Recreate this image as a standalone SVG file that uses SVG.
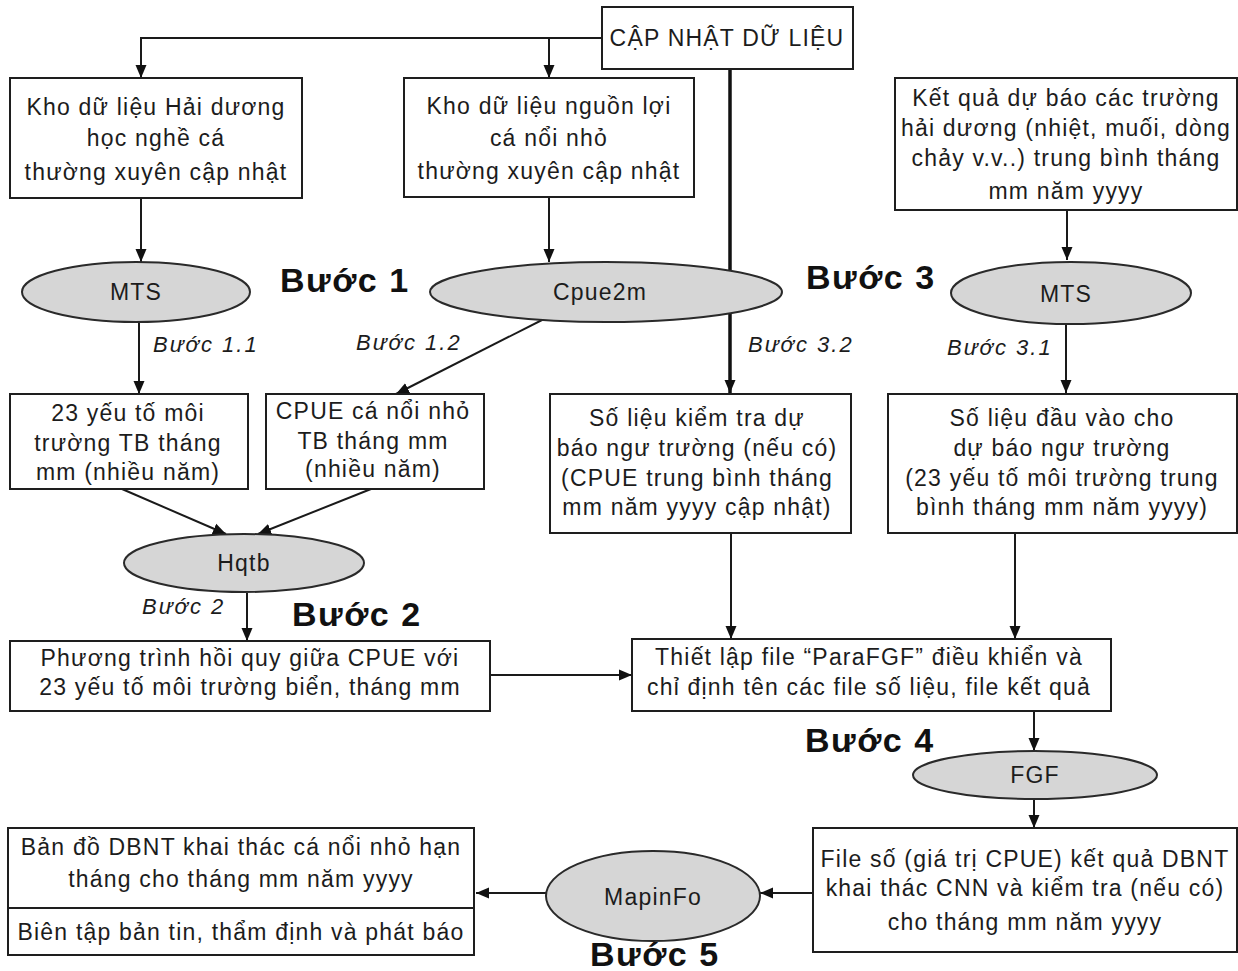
<svg xmlns="http://www.w3.org/2000/svg" width="1238" height="971" viewBox="0 0 1238 971">
  <style>
    .bg { fill: #ffffff; }
    .box { fill: #ffffff; stroke: #1e1e1e; stroke-width: 2; }
    .oval { fill: #d6d6d6; stroke: #2a2a2a; stroke-width: 2; }
    .t { font-family: "Liberation Sans", Arial, sans-serif; font-size: 23px; fill: #1c1c1c; text-anchor: middle; letter-spacing: 1.2px; }
    .step { font-family: "Liberation Sans", Arial, sans-serif; font-size: 22px; font-style: italic; fill: #1c1c1c; letter-spacing: 2px; }
    .phase { font-family: "Liberation Sans", Arial, sans-serif; font-size: 34px; font-weight: bold; fill: #111111; letter-spacing: 1.5px; }
    .link { fill: none; stroke: #1a1a1a; stroke-width: 2; }
    .thick { fill: none; stroke: #111111; stroke-width: 3.5; }
  </style>
  <defs>
    <marker id="arrow" markerUnits="userSpaceOnUse" markerWidth="14" markerHeight="14" viewBox="0 0 14 14" refX="13" refY="7" orient="auto">
      <path d="M0,1.5 L13,7 L0,12.5 Z" fill="#111111"/>
    </marker>
  </defs>

  <rect class="bg" x="0" y="0" width="1238" height="971"/>

  <!-- connectors -->
  <g id="connectors">
    <path class="link" d="M602,38 H141 V78" marker-end="url(#arrow)"/>
    <path class="link" d="M549,38 V78" marker-end="url(#arrow)"/>
    <path class="thick" d="M730,69 V393" marker-end="url(#arrow)"/>
    <path class="link" d="M141,198 V262" marker-end="url(#arrow)"/>
    <path class="link" d="M549,197 V262" marker-end="url(#arrow)"/>
    <path class="link" d="M1067,210 V260" marker-end="url(#arrow)"/>
    <path class="link" d="M139,322 V394" marker-end="url(#arrow)"/>
    <path class="link" d="M546,318 L396,394" marker-end="url(#arrow)"/>
    <path class="link" d="M1066,324 V393" marker-end="url(#arrow)"/>
    <path class="link" d="M122,489 L226,534" marker-end="url(#arrow)"/>
    <path class="link" d="M371,489 L258,534" marker-end="url(#arrow)"/>
    <path class="link" d="M247,593 V641" marker-end="url(#arrow)"/>
    <path class="link" d="M490,675 H632" marker-end="url(#arrow)"/>
    <path class="link" d="M731,533 V639" marker-end="url(#arrow)"/>
    <path class="link" d="M1015,533 V639" marker-end="url(#arrow)"/>
    <path class="link" d="M1034,711 V751" marker-end="url(#arrow)"/>
    <path class="link" d="M1034,800 V828" marker-end="url(#arrow)"/>
    <path class="link" d="M813,893 H760" marker-end="url(#arrow)"/>
    <path class="link" d="M546,893 H476" marker-end="url(#arrow)"/>
  </g>

  <!-- data update source -->
  <g id="capnhat">
    <rect class="box" x="602" y="7" width="251" height="62"/>
    <text class="t" x="727" y="46">CẬP NHẬT DỮ LIỆU</text>
  </g>

  <g id="kho-haiduong">
    <rect class="box" x="10" y="78" width="292" height="120"/>
    <text class="t" x="156" y="115">Kho dữ liệu Hải dương</text>
    <text class="t" x="156" y="146">học nghề cá</text>
    <text class="t" x="156" y="180">thường xuyên cập nhật</text>
  </g>

  <g id="kho-nguonloi">
    <rect class="box" x="404" y="78" width="290" height="119"/>
    <text class="t" x="549" y="114">Kho dữ liệu nguồn lợi</text>
    <text class="t" x="549" y="146">cá nổi nhỏ</text>
    <text class="t" x="549" y="179">thường xuyên cập nhật</text>
  </g>

  <g id="ketqua-dubao">
    <rect class="box" x="895" y="78" width="342" height="132"/>
    <text class="t" x="1066" y="106">Kết quả dự báo các trường</text>
    <text class="t" x="1066" y="136">hải dương (nhiệt, muối, dòng</text>
    <text class="t" x="1066" y="166">chảy v.v..) trung bình tháng</text>
    <text class="t" x="1066" y="199">mm năm yyyy</text>
  </g>

  <g id="mts-1">
    <ellipse class="oval" cx="136" cy="292" rx="114" ry="30"/>
    <text class="t" x="136" y="300">MTS</text>
  </g>

  <g id="cpue2m">
    <ellipse class="oval" cx="606" cy="292" rx="176" ry="30"/>
    <text class="t" x="600" y="300">Cpue2m</text>
  </g>

  <g id="mts-2">
    <ellipse class="oval" cx="1071" cy="293" rx="120" ry="31"/>
    <text class="t" x="1066" y="302">MTS</text>
  </g>

  <g id="yeuto-tb">
    <rect class="box" x="10" y="394" width="238" height="95"/>
    <text class="t" x="128" y="421">23 yếu tố môi</text>
    <text class="t" x="128" y="451">trường TB tháng</text>
    <text class="t" x="128" y="480">mm (nhiều năm)</text>
  </g>

  <g id="cpue-tb">
    <rect class="box" x="266" y="394" width="218" height="95"/>
    <text class="t" x="373" y="419">CPUE cá nổi nhỏ</text>
    <text class="t" x="373" y="449">TB tháng mm</text>
    <text class="t" x="373" y="477">(nhiều năm)</text>
  </g>

  <g id="kiemtra">
    <rect class="box" x="550" y="394" width="301" height="139"/>
    <text class="t" x="697" y="426">Số liệu kiểm tra dự</text>
    <text class="t" x="697" y="456">báo ngư trường (nếu có)</text>
    <text class="t" x="697" y="486">(CPUE trung bình tháng</text>
    <text class="t" x="697" y="515">mm năm yyyy cập nhật)</text>
  </g>

  <g id="dauvao">
    <rect class="box" x="888" y="394" width="349" height="139"/>
    <text class="t" x="1062" y="426">Số liệu đầu vào cho</text>
    <text class="t" x="1062" y="456">dự báo ngư trường</text>
    <text class="t" x="1062" y="486">(23 yếu tố môi trường  trung</text>
    <text class="t" x="1062" y="515">bình tháng mm năm yyyy)</text>
  </g>

  <g id="hqtb">
    <ellipse class="oval" cx="244" cy="563" rx="120" ry="29"/>
    <text class="t" x="244" y="571">Hqtb</text>
  </g>

  <g id="hoiquy">
    <rect class="box" x="10" y="641" width="480" height="70"/>
    <text class="t" x="250" y="666">Phương trình hồi quy giữa CPUE với</text>
    <text class="t" x="250" y="695">23 yếu tố môi trường biển, tháng mm</text>
  </g>

  <g id="parafgf">
    <rect class="box" x="632" y="639" width="479" height="72"/>
    <text class="t" x="869" y="665">Thiết lập file “ParaFGF” điều khiển và</text>
    <text class="t" x="869" y="695">chỉ định tên các file số liệu, file kết quả</text>
  </g>

  <g id="fgf">
    <ellipse class="oval" cx="1035" cy="775" rx="122" ry="24"/>
    <text class="t" x="1035" y="783">FGF</text>
  </g>

  <g id="file-so">
    <rect class="box" x="813" y="828" width="424" height="124"/>
    <text class="t" x="1025" y="867">File số (giá trị CPUE) kết quả DBNT</text>
    <text class="t" x="1025" y="896">khai thác CNN và kiểm tra (nếu có)</text>
    <text class="t" x="1025" y="930">cho tháng mm năm yyyy</text>
  </g>

  <g id="mapinfo">
    <ellipse class="oval" cx="653" cy="896" rx="107" ry="45"/>
    <text class="t" x="653" y="905">MapinFo</text>
  </g>

  <g id="bando">
    <rect class="box" x="8" y="828" width="466" height="127"/>
    <line class="box" x1="8" y1="908" x2="474" y2="908"/>
    <text class="t" x="241" y="855">Bản đồ DBNT khai thác cá nổi nhỏ hạn</text>
    <text class="t" x="241" y="887">tháng cho tháng mm năm yyyy</text>
    <text class="t" x="241" y="940">Biên tập bản tin, thẩm định và phát báo</text>
  </g>

  <!-- step labels -->
  <g id="step-labels">
    <text class="step" x="153" y="352">Bước 1.1</text>
    <text class="step" x="356" y="350">Bước 1.2</text>
    <text class="step" x="748" y="352">Bước 3.2</text>
    <text class="step" x="947" y="355">Bước 3.1</text>
    <text class="step" x="142" y="614">Bước 2</text>
    <text class="phase" x="280" y="292">Bước 1</text>
    <text class="phase" x="806" y="289">Bước 3</text>
    <text class="phase" x="292" y="626">Bước 2</text>
    <text class="phase" x="805" y="752">Bước 4</text>
    <text class="phase" x="590" y="966">Bước 5</text>
  </g>
</svg>
